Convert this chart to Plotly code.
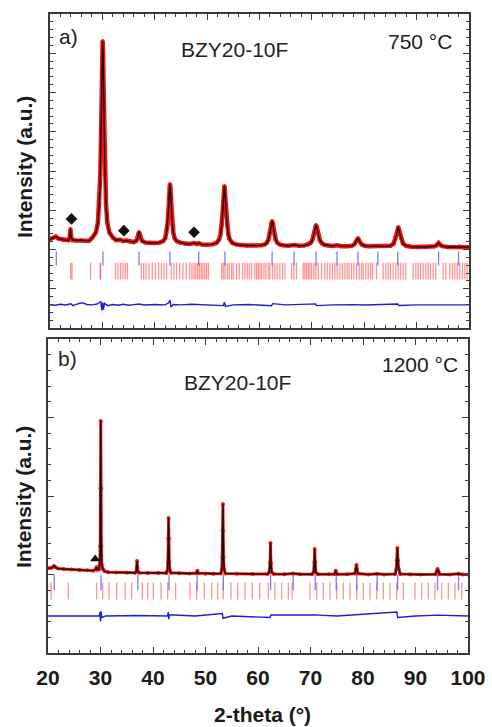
import plotly.graph_objects as go

FONT = "Liberation Sans, Arial, sans-serif"
W, H = 492, 727

# ---------------- Panel a) 750 C ----------------
tth_a = [20.0, 20.6, 21.1, 21.6, 22.5, 23.5, 23.75, 23.9, 24.05, 24.3, 25.0, 26.0, 26.8, 27.5,
         28.05, 28.75, 29.15, 29.4, 29.6, 29.75, 29.85, 29.95, 30.05, 30.15, 30.25, 30.35, 30.5,
         30.7, 30.95, 31.35, 32.05, 32.6, 33.4, 34.0, 34.6, 35.3, 36.0, 36.5, 36.75, 36.9, 37.0,
         37.1, 37.25, 37.55, 38.2, 39.0, 40.0, 40.9, 41.6, 42.0, 42.25, 42.45, 42.6, 42.7, 42.8,
         42.9, 43.0, 43.1, 43.2, 43.35, 43.55, 43.8, 44.2, 44.9, 45.8, 46.6, 47.5, 48.0, 48.4,
         49.0, 50.0, 51.0, 51.8, 52.3, 52.55, 52.8, 52.95, 53.1, 53.2, 53.3, 53.4, 53.5, 53.65,
         53.8, 54.05, 54.3, 54.8, 55.5, 56.5, 57.5, 58.5, 59.5, 60.4, 61.0, 61.4, 61.7, 61.95,
         62.1, 62.25, 62.4, 62.55, 62.7, 62.85, 63.1, 63.4, 63.9, 64.6, 65.5, 66.7, 67.5, 68.5,
         69.2, 69.7, 70.05, 70.3, 70.5, 70.65, 70.8, 70.95, 71.1, 71.3, 71.55, 71.9, 72.4, 73.1,
         74.0, 74.8, 75.6, 76.6, 77.6, 78.1, 78.45, 78.8, 79.15, 79.5, 80.1, 81.0, 82.7, 84.0,
         85.0, 85.6, 86.0, 86.25, 86.5, 86.75, 87.0, 87.4, 88.0, 89.0, 90.5, 92.0, 93.5, 93.9,
         94.2, 94.5, 94.9, 96.0, 97.5, 98.2, 99.0, 100.0]
obs_a = [2260, 2290, 2330, 2280, 2245, 2235, 2300, 2520, 2310, 2240, 2230, 2235, 2225, 2225,
         2300, 2430, 2680, 3140, 3900, 4920, 5990, 6910, 7313, 6910, 5990, 4920, 3900,
         3140, 2680, 2430, 2300, 2240, 2250, 2215, 2230, 2200, 2190, 2225, 2300, 2400, 2446,
         2400, 2310, 2225, 2180, 2165, 2165, 2175, 2211, 2287, 2423, 2651, 2955, 3274, 3547,
         3670, 3547, 3274, 2955, 2651, 2423, 2287, 2211, 2175, 2145, 2140, 2165, 2140, 2160,
         2125, 2120, 2130, 2170, 2260, 2380, 2620, 2920, 3250, 3500, 3618, 3500, 3250, 2920,
         2620, 2380, 2260, 2170, 2130, 2110, 2105, 2100, 2100, 2110, 2130, 2170, 2250, 2390,
         2500, 2660, 2726, 2660, 2500, 2390, 2250, 2170, 2125, 2105, 2095, 2115, 2095, 2100,
         2120, 2160, 2230, 2340, 2450, 2575, 2624, 2575, 2450, 2340, 2230, 2160, 2120, 2100,
         2090, 2110, 2085, 2085, 2095, 2130, 2200, 2293, 2200, 2130, 2095, 2080, 2090, 2080,
         2095, 2150, 2290, 2430, 2573, 2430, 2290, 2150, 2095, 2070, 2065, 2065, 2085, 2120,
         2166, 2120, 2085, 2065, 2065, 2080, 2062, 2060]

tth_diff_a = [20, 21, 22, 23, 24.0, 24.4, 25, 25.7, 26.4, 27, 28, 29.0, 29.7, 29.9, 30.05, 30.2,
              30.4, 31, 32, 33, 34, 35, 36, 37, 38, 40, 42, 42.7, 42.9, 43.1, 43.5, 45, 47, 50,
              53.1, 53.3, 53.5, 55, 58, 62.3, 62.5, 65, 70.7, 70.9, 74, 78, 80, 86.4, 86.6, 90,
              95, 100]
diff_a = [0, -10, 15, -5, 25, -20, 10, 40, 50, 10, 0, 20, 80, -140, 60, -120,
          40, -20, 10, -10, 15, -10, 5, 20, -5, 10, 0, 60, 120, -60, 10, 0, 15, -5,
          -20, 70, -40, 0, 10, -25, 30, 0, 25, -20, 0, 5, -5, 20, -15, 0,
          5, 0]

blue_a = [21.2, 30.1, 37.0, 42.9, 48.4, 53.4, 62.4, 66.6, 70.8, 74.8, 78.8, 82.6, 86.4, 94.2, 98.0]
red_a = [23.95, 24.2, 27.76, 29.6, 29.65,
         32.5, 32.98, 33.49, 33.93, 34.37, 34.76,
         37.43, 37.88, 38.32, 38.89, 39.53, 40.10, 40.74, 41.24, 41.76, 42.27, 43.15, 43.66,
         44.18, 44.75, 45.38, 46.01, 46.66, 47.10, 47.5, 47.85, 48.2, 48.55, 48.9, 49.2, 49.55,
         49.9, 50.25,
         52.76, 53.08, 53.40, 53.84, 54.22, 54.67, 54.99, 55.62, 56.13, 56.77, 57.21, 57.66,
         58.04, 58.49, 59.12, 59.44, 59.76, 60.08, 60.39, 60.84, 61.22, 61.67, 61.98, 62.49,
         62.94, 63.38, 63.89, 64.40, 64.85, 66.12, 66.56, 67.07, 68.35, 68.66, 68.98, 69.30,
         69.62, 69.94, 70.38, 70.76, 71.21, 71.85, 72.48, 72.93, 73.44, 73.94,
         74.39, 74.83, 75.34, 75.85, 76.30, 76.74, 77.12, 77.57, 78.02, 78.52, 79.03, 79.48,
         79.80, 80.31, 80.75, 81.20, 81.58, 82.34, 83.61, 84.12, 84.57, 85.01, 85.52, 86.03,
         86.48, 86.92, 87.43, 87.94, 89.34, 89.85, 90.29, 90.74, 91.25, 91.76, 92.20, 92.65,
         93.16, 93.66, 95.06, 95.57, 96.34, 96.84, 97.29, 97.74, 98.24, 98.75, 99.20, 99.64]
impurity_a_x = [24.1, 34.1, 47.5]
impurity_a_y = [2780, 2480, 2440]

# ---------------- Panel b) 1200 C ----------------
tth_b = [20.0, 20.6, 21.0, 21.15, 21.35, 21.9, 23.0, 24.5, 26.0, 27.5, 28.6, 29.1, 29.25, 29.4,
         29.7, 29.85, 29.95, 30.0, 30.05, 30.1, 30.15, 30.25, 30.45, 30.8, 31.5, 33.0, 35.0,
         36.6, 36.8, 36.9, 36.97, 37.04, 37.14, 37.4, 39.0, 41.0, 42.55, 42.75, 42.85, 42.92,
         42.97, 43.02, 43.09, 43.2, 43.4, 45.0, 47.0, 48.3, 48.45, 48.6, 50.0, 51.5, 52.9, 53.1,
         53.2, 53.27, 53.32, 53.37, 53.44, 53.55, 53.8, 56.0, 59.0, 61.8, 62.15, 62.3, 62.38,
         62.46, 62.6, 63.0, 65.0, 66.7, 68.0, 70.3, 70.6, 70.73, 70.8, 70.88, 71.0, 71.4, 73.5,
         74.6, 74.8, 75.0, 77.0, 78.45, 78.65, 78.75, 78.85, 79.05, 81.0, 82.7, 84.0, 86.1,
         86.35, 86.45, 86.55, 86.65, 86.8, 87.1, 89.0, 91.0, 93.8, 94.1, 94.2, 94.35, 94.6,
         96.5, 98.2, 99.0, 100.0]
obs_b = [5400, 5420, 5500, 5540, 5480, 5380, 5350, 5320, 5290, 5265, 5245, 5330, 5470, 5300,
         5320, 5600, 6800, 10500, 14776, 10500, 6800, 5600, 5350, 5200, 5150, 5130, 5115,
         5110, 5180, 5450, 5860, 5450, 5180, 5110, 5100, 5090, 5100, 5250, 5800, 7300,
         8598, 7300, 5800, 5250, 5110, 5075, 5065, 5090, 5240, 5090, 5055, 5050, 5060, 5300,
         6100, 7800, 9490, 7800, 6100, 5300, 5070, 5040, 5030, 5025, 5150, 5700, 7006,
         5700, 5150, 5030, 5020, 5070, 5015, 5020, 5150, 5800, 6624, 5800, 5150, 5020, 5012,
         5030, 5240, 5030, 5010, 5060, 5350, 5605, 5350, 5060, 5005, 5040, 5005, 5030,
         5350, 5900, 6687, 5900, 5350, 5030, 5000, 5000, 5020, 5200, 5350, 5200, 5020,
         5000, 5050, 5000, 5000]

tth_diff_b = [20, 25, 29.8, 29.9, 30.0, 30.1, 30.25, 31, 37, 42.8, 42.9, 43.0, 43.1, 48, 53.2,
              53.35, 55, 62.3, 62.45, 70.8, 75, 86.45, 86.6, 90, 94.2, 100]
diff_b = [0, 10, 0, 250, -350, 300, -100, 0, 30, 0, 250, -200, 80, 0, 150,
          -150, 0, -100, 60, 70, 0, 250, -100, 0, 50, 0]

blue_b = [21.2, 30.1, 37.1, 43.05, 48.4, 53.4, 62.4, 66.7, 70.9, 74.9, 78.8, 82.7, 86.6, 94.2, 98.2]
red_b = [20.6, 23.87, 29.28, 30.42, 31.62, 33.08, 34.67, 35.94, 37.96, 38.99, 40.06, 41.52,
         42.80, 44.32, 47.05, 48.32, 49.77, 51.18, 52.32, 53.39, 54.86, 56.13, 57.52, 58.91,
         60.3, 61.96, 63.24, 64.51, 65.77, 66.5, 69.90, 71.18, 72.44, 73.71, 74.99, 76.25,
         77.52, 78.80, 80.06, 81.33, 82.61, 83.87, 85.14, 86.41, 87.68, 89.90, 91.18, 92.44,
         93.71, 94.99, 96.25, 97.52, 98.80]
impurity_b_x = [29.0]
impurity_b_y = [5990]

x_ticks = [20, 30, 40, 50, 60, 70, 80, 90, 100]

# offsets of the lower rows (in intensity units of each panel)
DIFF_OFF_A, BLUE_ROW_A, RED_ROW_A = 590, 1770, 1450
DIFF_OFF_B, BLUE_ROW_B, RED_ROW_B = 2360, 4490, 3950

fig = go.Figure()


def add_panel(xa, ya, tth, obs, tthd, diff, doff, blue, brow, red, rrow, ix, iy, isym, wred, bsize, rsize):
    fig.add_trace(go.Scatter(x=red, y=[rrow] * len(red), mode="markers", xaxis=xa, yaxis=ya,
                             marker=dict(symbol="line-ns-open", size=rsize, color="rgba(255,60,60,0.55)",
                                         line=dict(width=1.3, color="rgba(255,60,60,0.55)")),
                             showlegend=False))
    fig.add_trace(go.Scatter(x=blue, y=[brow] * len(blue), mode="markers", xaxis=xa, yaxis=ya,
                             marker=dict(symbol="line-ns-open", size=bsize, color="rgba(90,90,255,0.8)",
                                         line=dict(width=1.3, color="rgba(90,90,255,0.8)")),
                             showlegend=False))
    fig.add_trace(go.Scatter(x=tthd, y=[d + doff for d in diff], mode="lines", xaxis=xa, yaxis=ya,
                             line=dict(color="#1f1fd0", width=1.4), showlegend=False))
    fig.add_trace(go.Scatter(x=tth, y=obs, mode="lines+markers", xaxis=xa, yaxis=ya,
                             line=dict(color="#ff1010", width=wred),
                             marker=dict(color="#ff1010", size=4), showlegend=False))
    fig.add_trace(go.Scatter(x=tth, y=obs, mode="lines", xaxis=xa, yaxis=ya,
                             line=dict(color="#111111", width=1.4), showlegend=False))
    fig.add_trace(go.Scatter(x=ix, y=iy, mode="markers", xaxis=xa, yaxis=ya,
                             marker=dict(symbol=isym, size=9, color="#111111"), showlegend=False))


add_panel("x", "y", tth_a, obs_a, tth_diff_a, diff_a, DIFF_OFF_A, blue_a, BLUE_ROW_A, red_a,
          RED_ROW_A, impurity_a_x, impurity_a_y, "diamond", 4.5, 10, 12)
add_panel("x2", "y2", tth_b, obs_b, tth_diff_b, diff_b, DIFF_OFF_B, blue_b, BLUE_ROW_B, red_b,
          RED_ROW_B, impurity_b_x, impurity_b_y, "triangle-up", 3.0, 11, 12)

common = dict(showline=True, linecolor="#3a3a3a", linewidth=1.6, mirror="ticks", ticks="inside",
              ticklen=6, tickwidth=1.1, tickcolor="#3a3a3a", showgrid=False, zeroline=False,
              automargin=False)


def xd(l, r):
    return [l / W, r / W]


def yd(t, b):
    return [1 - b / H, 1 - t / H]


fig.update_layout(
    template="none",
    width=W, height=H, margin=dict(l=0, r=0, t=0, b=0, autoexpand=False),
    paper_bgcolor="white", plot_bgcolor="white", showlegend=False,
    xaxis=dict(domain=xd(50, 469), anchor="y", range=[20, 100], tickvals=x_ticks,
               showticklabels=False, minor=dict(ticks="inside", ticklen=3, dtick=2, tick0=20,
                                                tickcolor="#3a3a3a"), **common),
    yaxis=dict(domain=yd(14, 328), anchor="x", range=[0, 8000], dtick=1000, showticklabels=False,
               minor=dict(ticks="inside", ticklen=3, dtick=200, tickcolor="#3a3a3a"), **common),
    xaxis2=dict(domain=xd(48, 468), anchor="y2", range=[20, 100], tickvals=x_ticks,
                tickfont=dict(family=FONT, size=21, color="#1a1a1a", weight="bold"),
                ticklabelstandoff=5,
                minor=dict(ticks="inside", ticklen=3, dtick=2, tick0=20, tickcolor="#3a3a3a"),
                **common),
    yaxis2=dict(domain=yd(339, 653), anchor="x2", range=[0, 20000], dtick=5000,
                showticklabels=False,
                minor=dict(ticks="inside", ticklen=3, dtick=1000, tickcolor="#3a3a3a"), **common),
)

txt = dict(family=FONT, size=21, color="#222222")
bold = dict(family=FONT, size=21, color="#1a1a1a", weight="bold")
ann = [
    dict(text="a)", x=68 / W, y=1 - 37 / H, font=txt),
    dict(text="BZY20-10F", x=234 / W, y=1 - 49 / H, font=txt),
    dict(text="750 °C", x=420 / W, y=1 - 41 / H, font=txt),
    dict(text="b)", x=67 / W, y=1 - 358 / H, font=txt),
    dict(text="BZY20-10F", x=237 / W, y=1 - 382 / H, font=txt),
    dict(text="1200 °C", x=420 / W, y=1 - 364 / H, font=txt),
    dict(text="Intensity (a.u.)", x=24 / W, y=1 - 167 / H, font=bold, textangle=-90),
    dict(text="Intensity (a.u.)", x=24 / W, y=1 - 497 / H, font=bold, textangle=-90),
    dict(text="2-theta (°)", x=262 / W, y=1 - 714 / H, font=bold),
]
for a in ann:
    a.update(xref="paper", yref="paper", showarrow=False, xanchor="center", yanchor="middle")
fig.update_layout(annotations=ann)

fig.write_html("out.html")
